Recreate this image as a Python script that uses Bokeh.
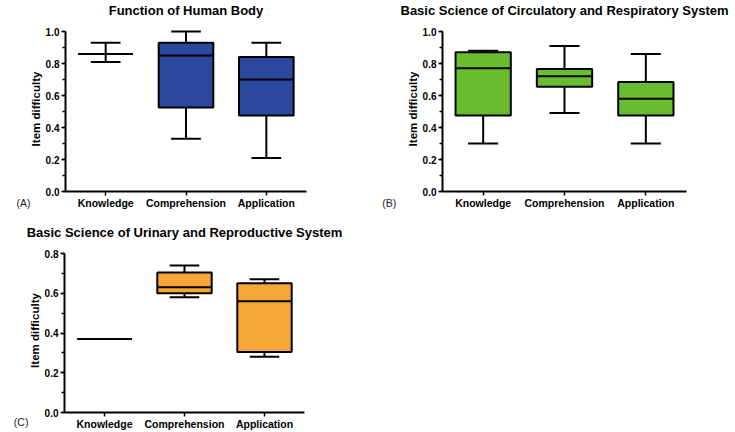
from bokeh.plotting import figure
from bokeh.models import Range1d, FactorRange, SingleIntervalTicker, PrintfTickFormatter, Title, ColumnDataSource
from bokeh.transform import dodge
from bokeh.layouts import column, row
from bokeh.embed import file_html
from bokeh.resources import INLINE

categories = ["Knowledge", "Comprehension", "Application"]

a_title = "Function of Human Body"
a_tag = "(A)"
a_min = [0.81, 0.33, 0.21]
a_q1 = [0.86, 0.525, 0.475]
a_median = [0.86, 0.85, 0.70]
a_q3 = [0.86, 0.93, 0.84]
a_max = [0.93, 1.00, 0.93]

b_title = "Basic Science of Circulatory and Respiratory System"
b_tag = "(B)"
b_min = [0.30, 0.49, 0.30]
b_q1 = [0.475, 0.655, 0.475]
b_median = [0.77, 0.72, 0.58]
b_q3 = [0.87, 0.765, 0.685]
b_max = [0.88, 0.91, 0.86]

c_title = "Basic Science of Urinary and Reproductive System"
c_tag = "(C)"
c_min = [0.37, 0.58, 0.28]
c_q1 = [0.37, 0.60, 0.305]
c_median = [0.37, 0.63, 0.56]
c_q3 = [0.37, 0.705, 0.65]
c_max = [0.37, 0.74, 0.67]

FONT = "Liberation Sans"
SHIFT = 8  # observed page offset of the layout origin
AXIS_PANEL = 20  # approx. height of the bottom axis panel


def make_panel(title, tag, mins, q1, med, q3, mx, color, ymax,
               ox, oy, width, height, f_left, f_right, y_top_tick, y_zero,
               title_base, tag_left, tag_base):
    L = f_left - ox
    f_width = f_right - f_left
    px_per_unit = (y_zero - y_top_tick) / ymax
    pad_px = 5
    T = y_top_tick - pad_px - oy
    Z = y_zero - oy
    y_end = ymax + pad_px / px_per_unit

    p = figure(width=width, height=height, output_backend="svg", toolbar_location=None,
               x_range=FactorRange(*categories, range_padding=0),
               y_range=Range1d(0, y_end),
               min_border_left=L, min_border_right=width - L - f_width,
               min_border_top=T, min_border_bottom=height - Z)
    p.outline_line_color = None
    p.xgrid.visible = False
    p.ygrid.visible = False
    p.background_fill_color = "white"
    p.border_fill_color = "white"

    p.title.text = title
    p.title.align = "center"
    p.title.text_font = FONT
    p.title.text_font_style = "bold"
    p.title.text_font_size = "13px"
    p.title.text_color = "black"
    p.title.standoff = 2 * (T - (title_base - oy + 2.7))

    tag_top = tag_base - 9.5 - oy
    p.add_layout(Title(text=tag, align="left", offset=tag_left - f_left, vertical_align="top",
                       standoff=2 * (tag_top - (Z + AXIS_PANEL)), text_font=FONT,
                       text_font_style="normal", text_font_size="10.5px",
                       text_color="#222222"), "below")

    src = ColumnDataSource(dict(cat=categories, lo=mins, q1=q1, med=med, q3=q3, hi=mx))

    p.segment(x0="cat", x1="cat", y0="q3", y1="hi", source=src, line_color="black", line_width=2)
    p.segment(x0="cat", x1="cat", y0="lo", y1="q1", source=src, line_color="black", line_width=2)
    p.segment(x0=dodge("cat", -0.185, range=p.x_range), x1=dodge("cat", 0.185, range=p.x_range),
              y0="hi", y1="hi", source=src, line_color="black", line_width=2)
    p.segment(x0=dodge("cat", -0.185, range=p.x_range), x1=dodge("cat", 0.185, range=p.x_range),
              y0="lo", y1="lo", source=src, line_color="black", line_width=2)
    p.vbar(x="cat", width=0.68, bottom="q1", top="q3", source=src,
           fill_color=color, line_color="black", line_width=2)
    p.segment(x0=dodge("cat", -0.34, range=p.x_range), x1=dodge("cat", 0.34, range=p.x_range),
              y0="med", y1="med", source=src, line_color="black", line_width=2)

    ya = p.yaxis[0]
    ya.ticker = SingleIntervalTicker(interval=0.2, num_minor_ticks=2)
    ya.formatter = PrintfTickFormatter(format="%.1f")
    ya.bounds = (0, ymax)
    ya.axis_label = "Item difficulty"
    ya.axis_label_text_font = FONT
    ya.axis_label_text_font_style = "bold"
    ya.axis_label_text_font_size = "11.5px"
    ya.axis_label_text_color = "black"
    ya.axis_label_standoff = 1
    ya.major_label_text_font = FONT
    ya.major_label_text_font_style = "bold"
    ya.major_label_text_font_size = "10px"
    ya.major_label_text_color = "black"
    ya.major_label_standoff = 2
    ya.major_tick_in = 0
    ya.major_tick_out = 4
    ya.minor_tick_in = 0
    ya.minor_tick_out = 3
    ya.axis_line_width = 2
    ya.major_tick_line_width = 1.5
    ya.minor_tick_line_width = 1.5
    ya.axis_line_color = "black"
    ya.major_tick_line_color = "black"
    ya.minor_tick_line_color = "black"

    xa = p.xaxis[0]
    xa.major_label_text_font = FONT
    xa.major_label_text_font_style = "bold"
    xa.major_label_text_font_size = "10.5px"
    xa.major_label_text_color = "black"
    xa.major_label_standoff = 1
    xa.major_tick_in = 0
    xa.major_tick_out = 4
    xa.axis_line_width = 2
    xa.major_tick_line_width = 1.5
    xa.axis_line_color = "black"
    xa.major_tick_line_color = "black"
    return p


pA = make_panel(a_title, a_tag, a_min, a_q1, a_median, a_q3, a_max, "#2B479E", 1.0,
                -SHIFT, -SHIFT, 370 + SHIFT, 211 + SHIFT, 65, 306, 31, 191, 15, 16, 205.5)
pB = make_panel(b_title, b_tag, b_min, b_q1, b_median, b_q3, b_max, "#68BC2E", 1.0,
                370, -SHIFT, 365, 211 + SHIFT, 442, 686, 31, 191, 15, 381.7, 205.5)
pC = make_panel(c_title, c_tag, c_min, c_q1, c_median, c_q3, c_max, "#F4A637", 0.8,
                -SHIFT, 211, 370 + SHIFT, 221, 64, 304, 253, 412, 236.7, 13.3, 425)

layout = column(row(pA, pB), pC, margin=(-8, -8, -8, -8))

open("out.html", "w").write(file_html(layout, INLINE))
